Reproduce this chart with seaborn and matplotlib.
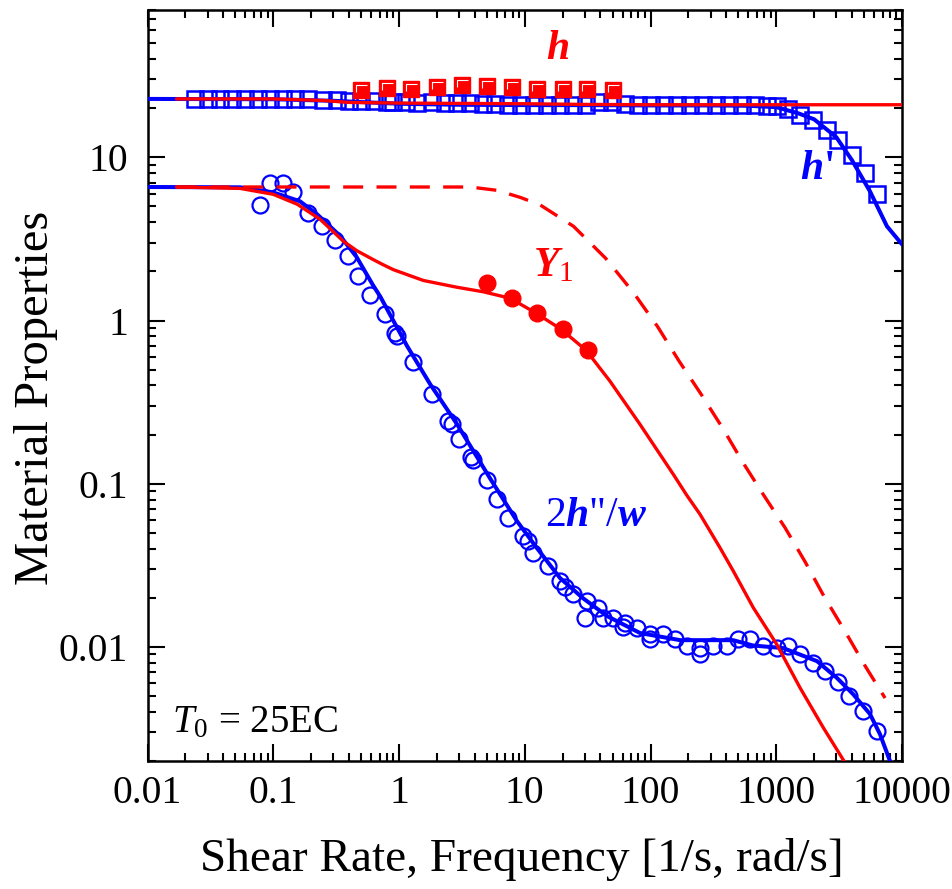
import matplotlib
matplotlib.use("Agg")
import matplotlib.pyplot as plt
from matplotlib.ticker import LogLocator, FuncFormatter, NullFormatter
from matplotlib.path import Path
import seaborn as sns
import pandas as pd

# ---------------- data ----------------
# eta' data (open blue squares)
etap_x = [0.024, 0.030, 0.038, 0.047, 0.060, 0.075, 0.095, 0.12, 0.15, 0.19,
          0.25, 0.32, 0.40, 0.50, 0.63, 0.80, 0.90, 1.14, 1.39,
          1.83, 2.32, 2.89, 3.67, 4.66, 5.80, 7.36, 9.34, 11.9,
          15.0, 19.1, 24.2, 30.7, 38.9, 49.4, 62.7, 79.5, 101, 128, 162, 206,
          262, 332, 421, 534, 678, 844,
          1010, 1240, 1540, 1960, 2530, 3100, 4010, 5080, 6310]
etap_y = [22.8, 22.9, 22.8, 22.8, 22.9, 22.8, 22.8, 22.9, 22.8, 22.8,
          22.3, 22.3, 22.2, 22.0, 22.0, 21.8, 21.7, 21.7, 21.6,
          21.7, 21.5, 21.4, 21.4, 21.1, 21.1, 21.0, 20.8, 20.8,
          20.9, 21.0, 21.0, 21.0, 21.9, 21.7, 21.1, 21.0, 21.0, 21.0, 21.0, 21.0,
          21.0, 21.0, 20.9, 20.9, 20.8, 20.7,
          20.5, 19.7, 18.3, 16.9, 14.8, 12.7, 10.3, 7.98, 5.93]

# eta data (filled red squares)
eta_x = [0.5, 0.8, 1.25, 2.0, 3.15, 5.0, 7.9, 12.5, 20, 31.5, 50]
eta_y = [26.0, 26.6, 26.4, 27.0, 27.6, 27.2, 26.8, 26.4, 26.4, 26.4, 25.7]

# 2 eta''/omega data (open blue circles)
gd_x = [0.079, 0.094, 0.120, 0.144, 0.189, 0.244, 0.310, 0.393, 0.472, 0.588,
        0.774, 0.929, 0.964, 1.29, 1.83, 2.45, 2.64, 3.0, 3.74, 3.88,
        5.01, 6.01, 7.36, 9.69, 10.6, 11.6, 15.3, 19.1, 20.9, 24.2,
        30.1, 31.3, 38.3, 41.9, 50.4, 60.4, 62.7, 78.1, 99.1, 99.1,
        126, 157, 195, 248, 248, 314, 406, 496, 618, 785,
        1014, 1240, 1545, 1960, 2443, 3098, 3790, 4900, 6320]
gd_y = [5.08, 6.93, 6.93, 6.1, 4.54, 3.78, 3.10, 2.48, 1.87, 1.43,
        1.09, 0.836, 0.80, 0.556, 0.354, 0.242, 0.232, 0.1875, 0.1455, 0.139,
        0.105, 0.0805, 0.0615, 0.0478, 0.0445, 0.0376, 0.0313, 0.0253, 0.0233, 0.0211,
        0.0150, 0.0191, 0.0173, 0.0150, 0.0150, 0.01324, 0.0140, 0.01305, 0.0120, 0.01117,
        0.0120, 0.01117, 0.0101, 0.00984, 0.00904, 0.0101, 0.0101, 0.01117, 0.01117, 0.0101,
        0.00984, 0.0101, 0.00904, 0.00796, 0.00711, 0.0061, 0.0050, 0.00405, 0.00305]

# Y1 data (filled red circles)
y1_x = [5.0, 7.9, 12.6, 20.0, 31.6]
y1_y = [1.69, 1.37, 1.11, 0.885, 0.658]

# model curves
etap_fit_x = [0.01, 0.1, 0.3, 1, 3, 10, 30, 100, 300, 600, 1000, 1500, 2000, 3000, 4000, 5560, 7590, 10000]
etap_fit_y = [22.8, 22.7, 22.2, 21.3, 21.0, 20.9, 20.9, 20.8, 20.8, 20.7, 20.3, 18.6, 17.1, 13.3, 9.6, 6.19, 3.78, 2.93]

eta_fit_x = [0.017, 0.1, 0.25, 0.4, 1, 10, 30, 100, 1000, 10000]
eta_fit_y = [22.8, 22.8, 22.3, 21.7, 21.5, 21.3, 21.1, 21.0, 21.0, 21.0]

gd_fit_x = [0.01, 0.0545, 0.0996, 0.163, 0.223, 0.34, 0.46, 0.62, 0.71, 1.16, 1.77, 2.89,
            5.29, 8.67, 12.5, 19.1, 29.0, 45.1, 82.6, 172, 453, 653, 1132, 2110, 3040,
            4080, 5560, 6680, 8020]
gd_fit_y = [6.58, 6.55, 6.1, 5.38, 4.48, 3.3, 2.45, 1.65, 1.40, 0.697, 0.407, 0.232,
            0.108, 0.059, 0.0403, 0.0264, 0.0199, 0.01546, 0.01216, 0.0110, 0.0110, 0.0102,
            0.00984, 0.00818, 0.00645, 0.00514, 0.00388, 0.00292, 0.0020]

y1_fit_x = [0.017, 0.0545, 0.0996, 0.155, 0.236, 0.361, 0.461, 0.625, 0.746, 0.901, 1.56,
            2.88, 4.68, 7.64, 12.3, 19.4, 30.7, 47.6, 82.5, 152, 194, 248, 357, 455,
            657, 1008, 1545, 2367, 3631]
y1_fit_y = [6.58, 6.45, 5.94, 5.16, 4.17, 3.06, 2.68, 2.36, 2.20, 2.05, 1.76,
            1.60, 1.50, 1.37, 1.11, 0.885, 0.658, 0.425, 0.231, 0.114, 0.0851, 0.0648, 0.0405, 0.0292,
            0.01738, 0.01038, 0.00562, 0.0032, 0.00188]

y1_lin_x = [0.017, 3.67, 6.0, 9.16, 13.2, 24.4, 43.9, 73.3, 114, 169, 254,
            377, 544, 799, 1174, 1693, 2398, 3523, 5080, 7330]
y1_lin_y = [6.58, 6.58, 6.28, 5.69, 5.12, 3.78, 2.41, 1.48, 0.916, 0.563, 0.351,
            0.2175, 0.1346, 0.0845, 0.0538, 0.0333, 0.0204, 0.01246, 0.00766, 0.00486]

x_ticks = [0.01, 0.1, 1, 10, 100, 1000, 10000]
y_ticks = [0.01, 0.1, 1, 10]

# ---------------- style ----------------
sns.set_style("ticks")
plt.rcParams["font.family"] = ["Liberation Serif", "DejaVu Serif"]
plt.rcParams["mathtext.fontset"] = "custom"
plt.rcParams["mathtext.rm"] = "Liberation Serif"
plt.rcParams["mathtext.it"] = "Liberation Serif:italic:bold"
plt.rcParams["mathtext.bf"] = "Liberation Serif:bold"
plt.rcParams["mathtext.cal"] = "Liberation Serif:italic"
for k in ["text.color", "axes.labelcolor", "xtick.color", "ytick.color", "axes.edgecolor"]:
    plt.rcParams[k] = "black"

RED = "#ff0000"
BLUE = "#0000ff"

fig = plt.figure(figsize=(9.53, 8.89), dpi=100)
ax = fig.add_axes([0.1548, 0.1440, 0.7917, 0.8448])

def line(x, y, **kw):
    df = pd.DataFrame({"x": x, "y": y})
    sns.lineplot(data=df, x="x", y="y", ax=ax, estimator=None, sort=False, **kw)

# markers (open blue)
line(etap_x, etap_y, marker="s", markersize=11, markerfacecolor="none",
     markeredgecolor=BLUE, markeredgewidth=1.8, linestyle="none", color=BLUE, zorder=2)
line(gd_x, gd_y, marker="o", markersize=11.5, markerfacecolor="none",
     markeredgecolor=BLUE, markeredgewidth=1.6, linestyle="none", color=BLUE, zorder=2)
# blue curves
line(etap_fit_x, etap_fit_y, color=BLUE, linewidth=2.9, zorder=3)
line(gd_fit_x, gd_fit_y, color=BLUE, linewidth=2.9, zorder=3)
# red curves
line(eta_fit_x, eta_fit_y, color=RED, linewidth=2.4, zorder=4)
line(y1_fit_x, y1_fit_y, color=RED, linewidth=2.4, zorder=4)
line(y1_lin_x, y1_lin_y, color=RED, linewidth=2.4, linestyle=(0, (6, 4)), zorder=4)
# red filled markers
line(eta_x, eta_y, marker="s", markersize=11, markerfacecolor=RED,
     markeredgecolor=RED, markeredgewidth=1.0, linestyle="none", color=RED, zorder=5)
bevel = Path([(-0.6, -0.3), (-0.6, 0.65), (0.7, 0.65)], [Path.MOVETO, Path.LINETO, Path.LINETO])
line(eta_x, eta_y, marker=bevel, markersize=8, markerfacecolor="none",
     markeredgecolor="white", markeredgewidth=0.8, linestyle="none", color="white", zorder=6)
line(y1_x, y1_y, marker="o", markersize=12, markerfacecolor=RED,
     markeredgecolor=RED, markeredgewidth=1.0, linestyle="none", color=RED, zorder=5)

ax.set_xscale("log")
ax.set_yscale("log")

fmt = FuncFormatter(lambda v, _: f"{v:g}")
ax.set_xticks(x_ticks)
ax.set_yticks(y_ticks)
ax.xaxis.set_minor_locator(LogLocator(base=10, subs=range(2, 10), numticks=100))
ax.yaxis.set_minor_locator(LogLocator(base=10, subs=range(2, 10), numticks=100))
ax.xaxis.set_major_formatter(fmt)
ax.yaxis.set_major_formatter(fmt)
ax.xaxis.set_minor_formatter(NullFormatter())
ax.yaxis.set_minor_formatter(NullFormatter())
ax.set_xlim(0.01, 10000)
ax.set_ylim(0.002, 80)

ax.tick_params(which="both", direction="in", top=True, right=True, width=1.5, colors="black")
ax.tick_params(which="major", length=12)
ax.tick_params(which="minor", length=6)
ax.tick_params(axis="x", which="major", labelsize=28.5, pad=10)
ax.tick_params(axis="y", which="major", labelsize=28.5, pad=14)
for s in ax.spines.values():
    s.set_linewidth(1.8)
    s.set_color("black")

ax.set_xlabel("Shear Rate, Frequency [1/s, rad/s]", fontsize=34, color="black")
ax.set_ylabel("Material Properties", fontsize=35, color="black")
ax.xaxis.set_label_coords(0.4963, -0.102)
ax.yaxis.set_label_coords(-0.118, 0.4834)

# annotations
ax.text(18.1, 39.8, r"$h$", color=RED, fontsize=30, ha="center", va="baseline")
ax.text(1545, 7.33, r"$h$'", color=BLUE, fontsize=30, fontweight="bold", ha="left", va="baseline")
ax.text(11.6, 1.87, r"$Y_{\mathrm{1}}$", color=RED, fontsize=30, ha="left", va="baseline")
ax.text(14.5, 0.055, '2$h$"/$w$', color=BLUE, fontsize=30, ha="left", va="baseline")
ax.text(0.0325, 0.0386, r"$\mathcal{T}_{\mathrm{0}}$ = 25EC", color="black", fontsize=28,
        ha="left", va="baseline", transform=ax.transAxes)

fig.savefig("out.png", dpi=100)
